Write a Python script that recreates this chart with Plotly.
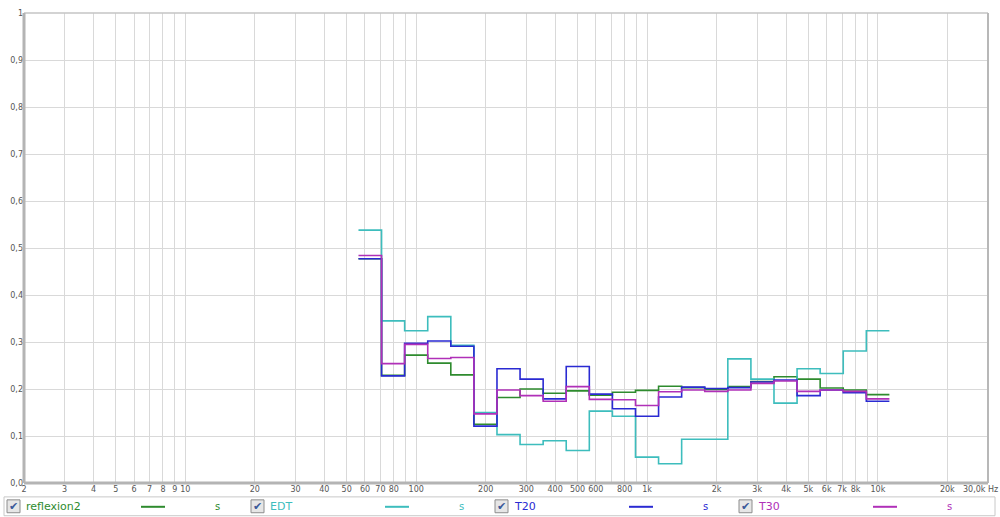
import math
import plotly.graph_objects as go

# ---- data ----
bands = [63, 80, 100, 125, 160, 200, 250, 315, 400, 500, 630, 800, 1000, 1250,
         1600, 2000, 2500, 3150, 4000, 5000, 6300, 8000, 10000]
reflexion2 = [0.477, 0.229, 0.272, 0.255, 0.230, 0.125, 0.182, 0.200, 0.191, 0.196, 0.187, 0.193,
              0.197, 0.206, 0.203, 0.199, 0.205, 0.216, 0.226, 0.221, 0.202, 0.198, 0.188]
edt = [0.538, 0.345, 0.324, 0.354, 0.293, 0.150, 0.103, 0.082, 0.090, 0.069, 0.153, 0.142,
       0.055, 0.041, 0.093, 0.093, 0.264, 0.221, 0.170, 0.243, 0.233, 0.281, 0.324]
t20 = [0.477, 0.228, 0.297, 0.302, 0.291, 0.121, 0.243, 0.221, 0.179, 0.248, 0.189, 0.158,
       0.142, 0.183, 0.204, 0.201, 0.203, 0.215, 0.219, 0.186, 0.198, 0.192, 0.174]
t30 = [0.484, 0.254, 0.295, 0.265, 0.267, 0.147, 0.198, 0.186, 0.174, 0.205, 0.178, 0.177,
       0.165, 0.194, 0.198, 0.195, 0.198, 0.212, 0.217, 0.195, 0.198, 0.195, 0.179]

series_names = ["reflexion2", "EDT", "T20", "T30"]
series_values = [reflexion2, edt, t20, t30]
series_colors = ["#2e8b2e", "#3dbdbd", "#2a2ad2", "#b030b8"]

x_tickvals = [2, 3, 4, 5, 6, 7, 8, 9,
              10, 20, 30, 40, 50, 60, 70, 80, 90,
              100, 200, 300, 400, 500, 600, 700, 800, 900,
              1000, 2000, 3000, 4000, 5000, 6000, 7000, 8000, 9000,
              10000, 20000, 30000]
x_ticktext = ["2", "3", "4", "5", "6", "7", "8", "9",
              "10", "20", "30", "40", "50", "60", "70", "80", "",
              "100", "200", "300", "400", "500", "600", "", "800", "",
              "1k", "2k", "3k", "4k", "5k", "6k", "7k", "8k", "",
              "10k", "20k", ""]
y_tickvals = [0, 0.1, 0.2, 0.3, 0.4, 0.5, 0.6, 0.7, 0.8, 0.9, 1.0]
y_ticktext = ["0,0", "0,1", "0,2", "0,3", "0,4", "0,5", "0,6", "0,7", "0,8", "0,9", "1"]

# ---- band edges (third-octave) ----
exact = [1000 * 10 ** (round(10 * math.log10(f / 1000)) / 10) for f in bands]
lower = [f * 10 ** (-1 / 20) for f in exact]
upper_last = exact[-1] * 10 ** (1 / 20)
xs = lower + [upper_last]

# ---- layout geometry ----
W, H = 1000, 517
L, R, T, B = 24, 12, 9, 34
PW, PH = W - L - R, H - T - B


def px(x):
    return (x - L) / PW


def py(y):
    return (H - B - y) / PH


fig = go.Figure()
for name, vals, col in zip(series_names, series_values, series_colors):
    fig.add_trace(go.Scatter(
        x=xs, y=list(vals) + [vals[-1]], mode="lines", name=name,
        line=dict(color=col, width=1.6, shape="hv"), showlegend=False,
    ))

tick_font = dict(family="DejaVu Sans", size=8, color="#555555")
fig.update_xaxes(type="log", range=[math.log10(2), math.log10(30000)],
                 tickvals=x_tickvals, ticktext=x_ticktext, tickfont=tick_font,
                 showgrid=True, gridcolor="#d9d9d9", gridwidth=1,
                 zeroline=False, showline=False, ticks="", ticklen=0)
fig.update_yaxes(range=[0, 1], tickvals=y_tickvals, ticktext=y_ticktext, tickfont=tick_font,
                 showgrid=True, gridcolor="#d9d9d9", gridwidth=1,
                 zeroline=False, showline=False, ticks="")

shapes = []
# border
shapes.append(dict(type="line", xref="paper", yref="paper", x0=0, x1=1, y0=1, y1=1,
                   line=dict(color="#c4c4c4", width=1.5)))
shapes.append(dict(type="line", xref="paper", yref="paper", x0=1, x1=1, y0=0, y1=1,
                   line=dict(color="#b8b8b8", width=2)))
shapes.append(dict(type="line", xref="paper", yref="paper", x0=0, x1=0, y0=0, y1=1,
                   line=dict(color="#b4b4b4", width=3)))
shapes.append(dict(type="line", xref="paper", yref="paper", x0=0, x1=1, y0=0, y1=0,
                   line=dict(color="#b4b4b4", width=3)))
# legend box
shapes.append(dict(type="rect", xref="paper", yref="paper", x0=px(4), x1=px(995),
                   y0=py(516), y1=py(497), line=dict(color="#c8c8c8", width=1),
                   fillcolor="rgba(0,0,0,0)"))

annotations = []
leg_font = "DejaVu Sans"
for i, (name, col) in enumerate(zip(series_names, series_colors)):
    ox = 244 * i
    # checkbox
    shapes.append(dict(type="rect", xref="paper", yref="paper",
                       x0=px(7 + ox), x1=px(20 + ox), y0=py(513), y1=py(500),
                       line=dict(color="#8c8c8c", width=1), fillcolor="#e6e6e6"))
    annotations.append(dict(xref="paper", yref="paper", x=px(13.5 + ox), y=py(506.5),
                            text="✔", showarrow=False, xanchor="center", yanchor="middle",
                            font=dict(family="DejaVu Sans", size=11, color="#3a5a9a")))
    annotations.append(dict(xref="paper", yref="paper", x=px(24 + ox), y=py(507),
                            text=name, showarrow=False, xanchor="left", yanchor="middle",
                            font=dict(family=leg_font, size=11, color=col)))
    shapes.append(dict(type="line", xref="paper", yref="paper",
                       x0=px(141 + ox), x1=px(165 + ox), y0=py(507), y1=py(507),
                       line=dict(color=col, width=2)))
    annotations.append(dict(xref="paper", yref="paper", x=px(217 + ox), y=py(507),
                            text="s", showarrow=False, xanchor="center", yanchor="middle",
                            font=dict(family=leg_font, size=10, color=col)))

annotations.append(dict(xref="paper", yref="paper", x=px(1000), y=py(490),
                        text="30,0k Hz", showarrow=False, xanchor="right", yanchor="middle",
                        font=tick_font))

fig.update_layout(width=W, height=H, margin=dict(l=L, r=R, t=T, b=B),
                  plot_bgcolor="white", paper_bgcolor="white",
                  shapes=shapes, annotations=annotations, showlegend=False)

fig.write_html("out.html", config={"displayModeBar": False},
               post_script="document.body.style.margin='0';document.body.style.overflow='hidden';")
